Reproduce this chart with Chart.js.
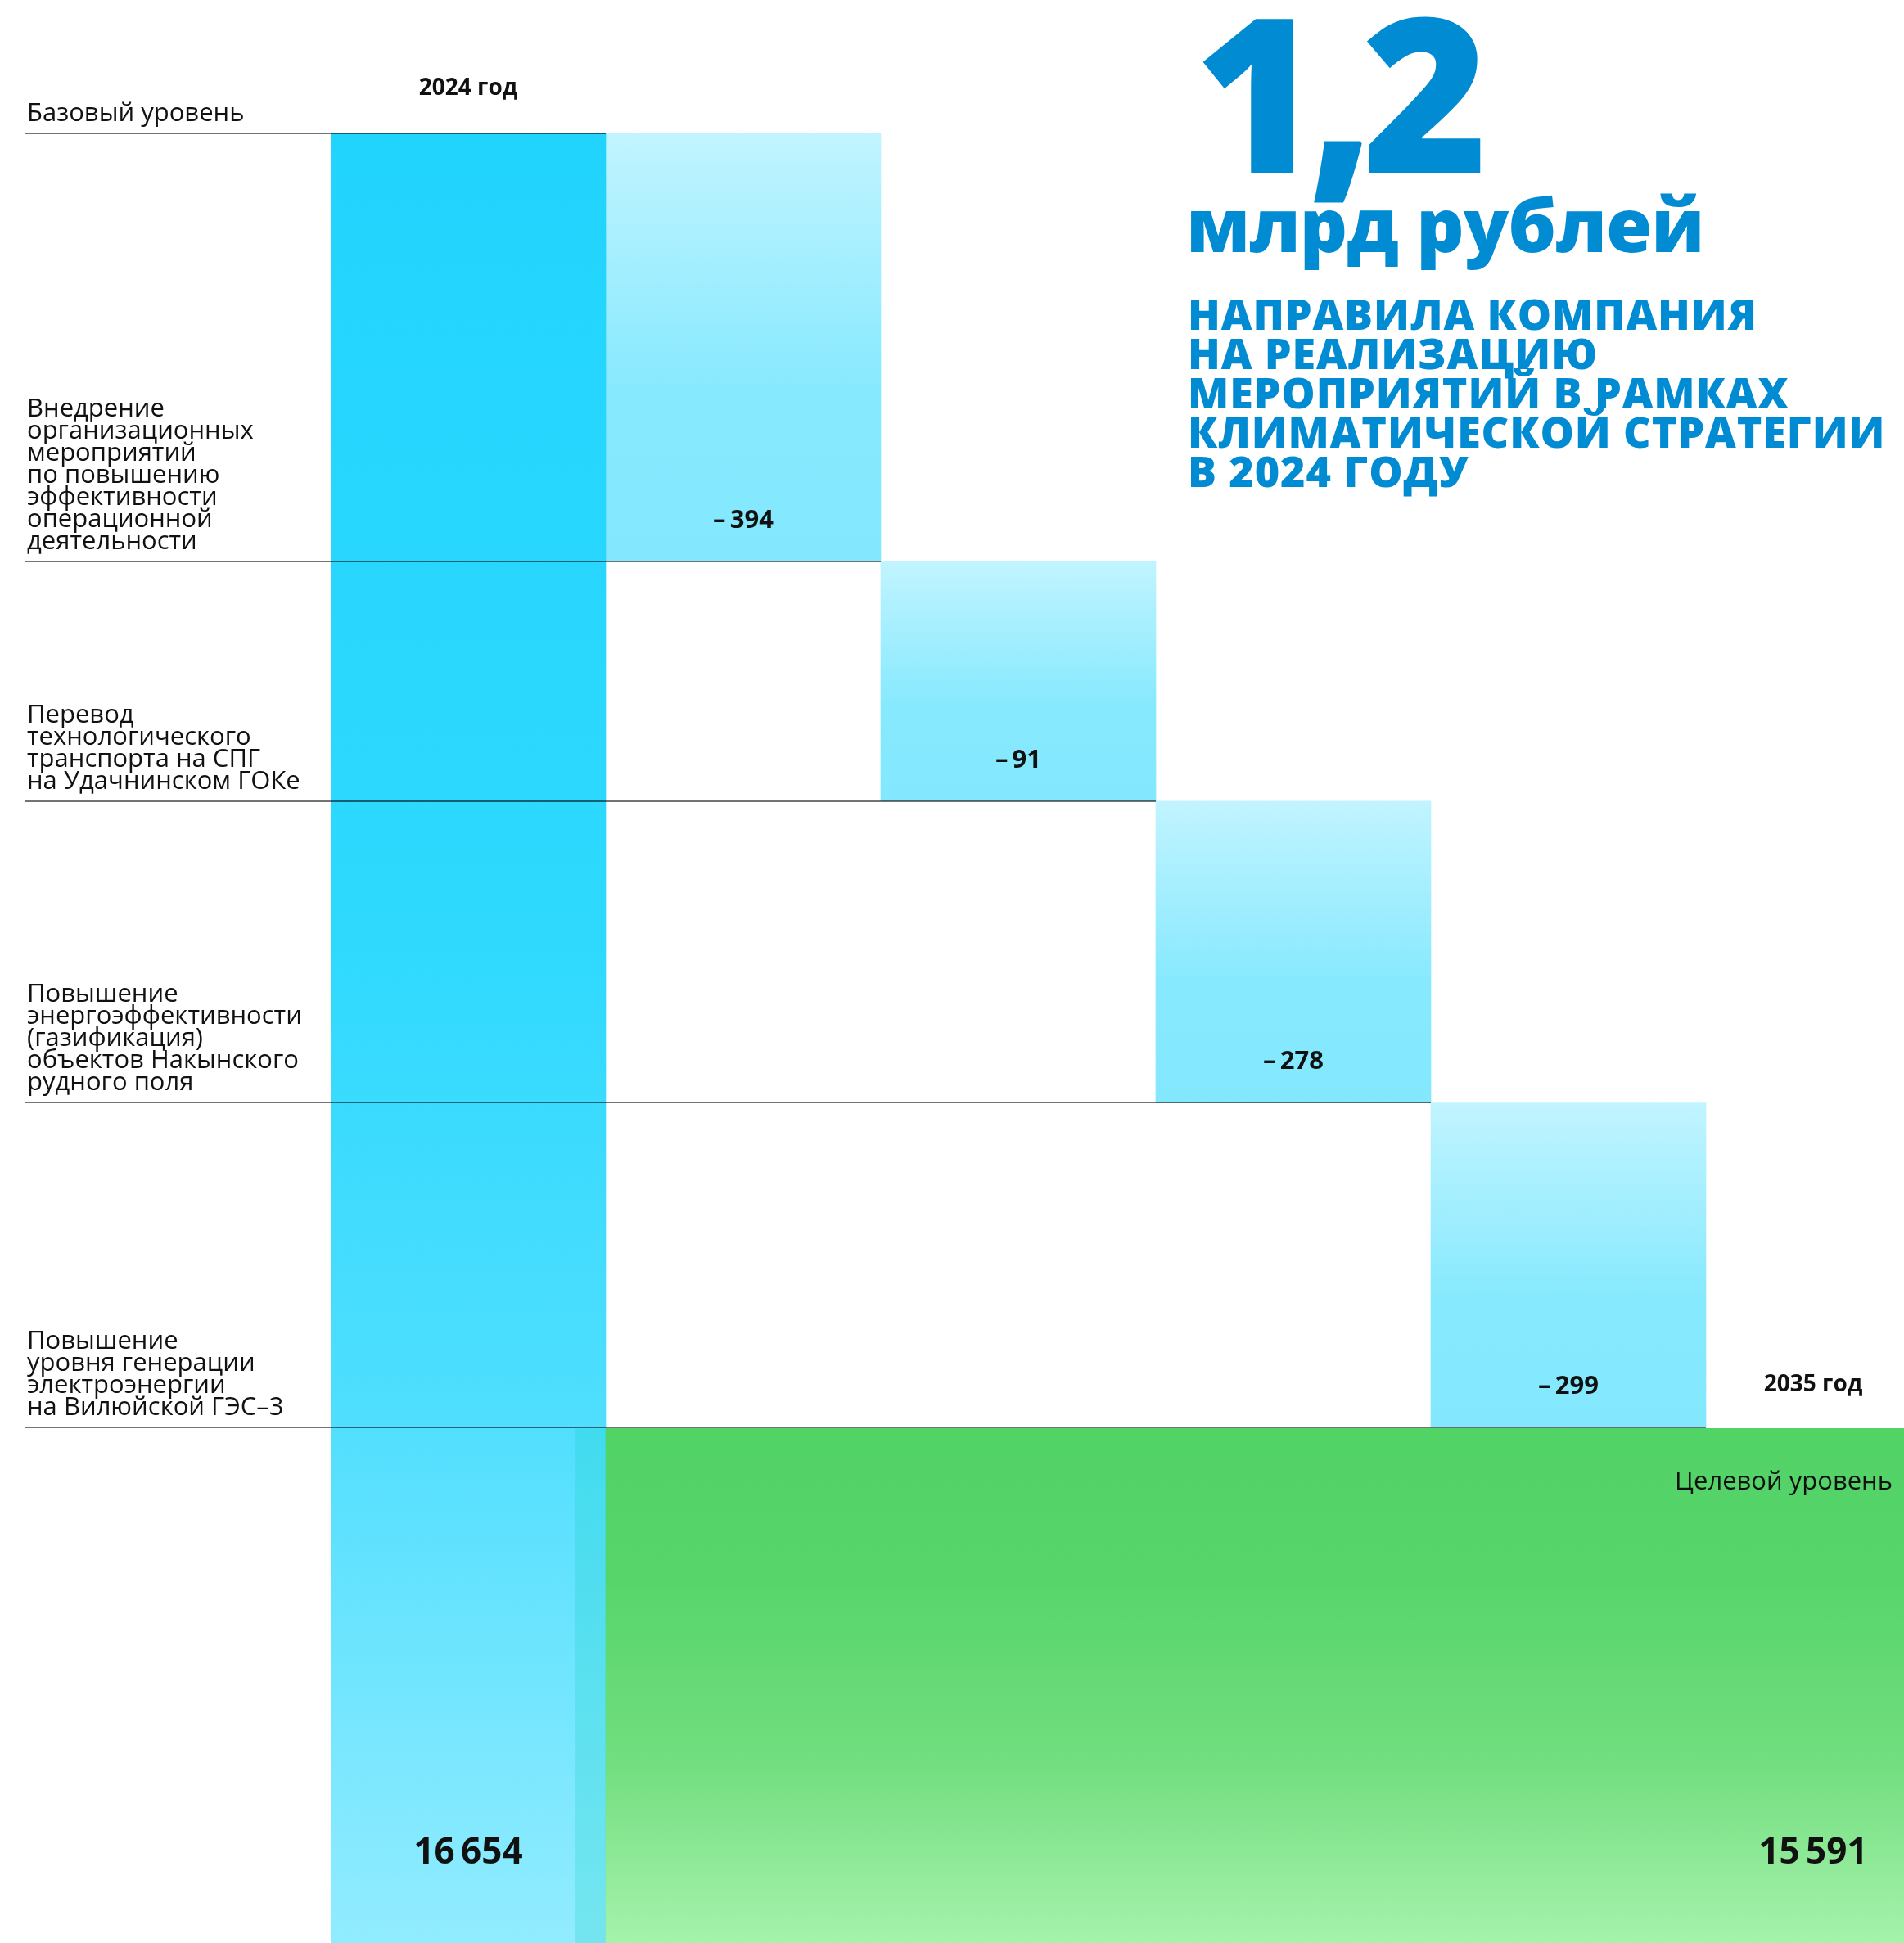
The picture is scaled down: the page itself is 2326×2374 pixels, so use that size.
<!DOCTYPE html>
<html lang="ru">
<head>
<meta charset="utf-8">
<title>Климатическая стратегия — каскад</title>
<script src="https://cdn.jsdelivr.net/npm/chart.js@4.4.1/dist/chart.umd.min.js"></script>
<style>
  html, body { margin: 0; padding: 0; background: #fff; }
  #wrap { position: relative; width: 2326px; height: 2374px; overflow: hidden; }
  canvas { display: block; }
</style>
</head>
<body>
<div id="wrap"><canvas id="chart" width="2420" height="2374"></canvas></div>
<script>
// Данные графика
const yearLabels = ['2024 год', '2035 год'];
const baseLabel = 'Базовый уровень';
const targetLabel = 'Целевой уровень';
const stepNames = [
    ['Внедрение', 'организационных', 'мероприятий', 'по повышению', 'эффективности', 'операционной', 'деятельности'],
    ['Перевод', 'технологического', 'транспорта на СПГ', 'на Удачнинском ГОКе'],
    ['Повышение', 'энергоэффективности', '(газификация)', 'объектов Накынского', 'рудного поля'],
    ['Повышение', 'уровня генерации', 'электроэнергии', 'на Вилюйской ГЭС–3']
];
const baseValue = 16654;
const stepValues = [-394, -91, -278, -299];
const targetValue = 15591;

// Заголовок
const headlineNumber = '1,2';
const headlineUnit = 'млрд рублей';
const headlineLines = ['НАПРАВИЛА КОМПАНИЯ', 'НА РЕАЛИЗАЦИЮ', 'МЕРОПРИЯТИЙ В РАМКАХ', 'КЛИМАТИЧЕСКОЙ СТРАТЕГИИ', 'В 2024 ГОДУ'];

// Уровни после каждого шага
const levels = [baseValue];
stepValues.forEach(v => levels.push(levels[levels.length - 1] + v));

// В оригинале маленькие шаги растянуты до минимальной высоты
const MIN_STEP = 221;
const shown = [baseValue];
stepValues.forEach(v => shown.push(shown[shown.length - 1] - Math.max(Math.abs(v), MIN_STEP)));

function toDisplay(v) {
    if (v >= levels[0]) return v;
    for (let i = 0; i < stepValues.length; i++) {
        if (v >= levels[i + 1]) {
            const t = (levels[i] - v) / (levels[i] - levels[i + 1]);
            return shown[i] - t * (shown[i] - shown[i + 1]);
        }
    }
    const n = levels.length - 1;
    return shown[n] - (levels[n] - v);
}

const Y_MAX = baseValue + 123;
const Y_MIN = shown[shown.length - 1] - 475;
const VIEW_RIGHT = 2326;
const LABEL_X = 33;

const categories = [yearLabels[0], ...stepNames.map(n => n.join(' ')), yearLabels[1]];

const baseData = categories.map((c, i) => i === 0 ? [Y_MIN, toDisplay(baseValue)] : null);
const stepData = categories.map((c, i) =>
    (i >= 1 && i <= stepValues.length) ? [toDisplay(levels[i]), toDisplay(levels[i - 1])] : null);
const targetData = categories.map((c, i) => i >= 1 ? [Y_MIN, toDisplay(targetValue)] : null);

function fmt(v) {
    const s = Math.abs(v).toString().replace(/\B(?=(\d{3})+(?!\d))/g, '\u2009');
    return v < 0 ? '–\u2009' + s : s;
}

// Градиент по высоте столбца
function barGradient(stops) {
    return function(context) {
        const chart = context.chart;
        if (!chart.chartArea || !context.raw) return stops[0][1];
        const y = chart.scales.y;
        const top = y.getPixelForValue(context.raw[1]);
        const bottom = y.getPixelForValue(context.raw[0]);
        const g = chart.ctx.createLinearGradient(0, top, 0, bottom);
        stops.forEach(s => g.addColorStop(s[0], s[1]));
        return g;
    };
}

const ROW_FONT = '31px "Open Sans"';

const annotations = {
    id: 'annotations',
    afterDatasetsDraw(chart) {
        const { ctx } = chart;
        const x = chart.scales.x;
        const y = chart.scales.y;
        const colW = x.getPixelForValue(1) - x.getPixelForValue(0);
        const colRight = i => x.getPixelForValue(i) + colW / 2;
        const lineY = v => Math.round(y.getPixelForValue(toDisplay(v)));

        ctx.save();
        // Тень целевого столбца на базовом
        const targetTop = y.getPixelForValue(toDisplay(targetValue));
        ctx.fillStyle = 'rgba(0, 205, 180, 0.2)';
        ctx.fillRect(colRight(0) - colW * 0.11, targetTop, colW * 0.11, chart.chartArea.bottom - targetTop);

        // Разделители
        ctx.strokeStyle = 'rgba(0, 0, 0, 0.55)';
        ctx.lineWidth = 2;
        levels.forEach((lv, j) => {
            ctx.beginPath();
            ctx.moveTo(LABEL_X - 2, lineY(lv));
            ctx.lineTo(colRight(j), lineY(lv));
            ctx.stroke();
        });

        // Подписи строк
        ctx.fillStyle = '#111';
        ctx.font = ROW_FONT;
        ctx.textAlign = 'left';
        ctx.textBaseline = 'alphabetic';
        [[baseLabel], ...stepNames].forEach((lines, j) => {
            const y0 = lineY(levels[j]) - 15;
            lines.slice().reverse().forEach((t, k) => ctx.fillText(t, LABEL_X, y0 - k * 27));
        });

        // Значения шагов
        ctx.font = 'bold 31px "Open Sans"';
        ctx.textAlign = 'center';
        stepValues.forEach((v, i) => {
            ctx.fillText(fmt(v), x.getPixelForValue(i + 1), lineY(levels[i + 1]) - 41);
        });

        // Годы
        const lastCenter = (colRight(5) - colW + VIEW_RIGHT) / 2 + 10;
        ctx.font = 'bold 28px "Open Sans"';
        ctx.fillText(yearLabels[0], x.getPixelForValue(0), lineY(levels[0]) - 47);
        ctx.fillText(yearLabels[1], lastCenter, lineY(levels[levels.length - 1]) - 44);

        // Итоговые значения
        ctx.font = 'bold 44px "Open Sans"';
        const valueY = chart.chartArea.bottom - 97;
        ctx.fillText(fmt(baseValue), x.getPixelForValue(0), valueY);
        ctx.fillText(fmt(targetValue), lastCenter, valueY);

        // Целевой уровень
        ctx.font = ROW_FONT;
        ctx.textAlign = 'right';
        ctx.fillText(targetLabel, VIEW_RIGHT - 14, targetTop + 75);
        ctx.restore();
    }
};

const headline = {
    id: 'headline',
    afterDraw(chart) {
        const { ctx } = chart;
        ctx.save();
        ctx.fillStyle = '#008bd2';
        ctx.textAlign = 'left';
        ctx.textBaseline = 'alphabetic';
        const inkLeft = (text, left, base) => {
            const m = ctx.measureText(text);
            ctx.fillText(text, left + m.actualBoundingBoxLeft, base);
        };
        ctx.font = '800 263px "Open Sans"';
        ctx.letterSpacing = '-15px';
        inkLeft(headlineNumber, 1467, 211);
        ctx.font = '800 91px "Open Sans"';
        ctx.letterSpacing = '-1px';
        inkLeft(headlineUnit, 1455, 308);
        ctx.font = '800 52px "Open Sans"';
        ctx.letterSpacing = '0.9px';
        headlineLines.forEach((t, i) => inkLeft(t, 1455, 403 + i * 48));
        ctx.restore();
    }
};

new Chart(document.getElementById('chart'), {
    type: 'bar',
    data: {
        labels: categories,
        datasets: [
            {
                label: 'Целевой уровень',
                data: targetData,
                backgroundColor: barGradient([[0, '#52d366'], [0.3, '#57d56b'], [0.65, '#72de7f'], [1, '#a6f2ac']]),
                grouped: false
            },
            {
                label: 'Базовый уровень',
                data: baseData,
                backgroundColor: barGradient([[0, '#21d4fd'], [0.45, '#2fd9fe'], [0.7, '#4edefe'], [1, '#92ecff']]),
                grouped: false
            },
            {
                label: 'Мероприятия',
                data: stepData,
                backgroundColor: barGradient([[0, '#c1f4ff'], [0.6, '#87e9fe'], [1, '#83e8fe']]),
                grouped: false
            }
        ]
    },
    options: {
        responsive: false,
        devicePixelRatio: 1,
        animation: false,
        layout: { padding: { left: 404, right: 0, top: 0, bottom: 0 } },
        datasets: {
            bar: { categoryPercentage: 1, barPercentage: 1, borderWidth: 0, borderSkipped: false }
        },
        scales: {
            x: { type: 'category', display: false, offset: true },
            y: { display: false, min: Y_MIN, max: Y_MAX }
        },
        plugins: {
            legend: { display: false },
            tooltip: { enabled: false }
        }
    },
    plugins: [annotations, headline]
});
</script>
</body>
</html>
